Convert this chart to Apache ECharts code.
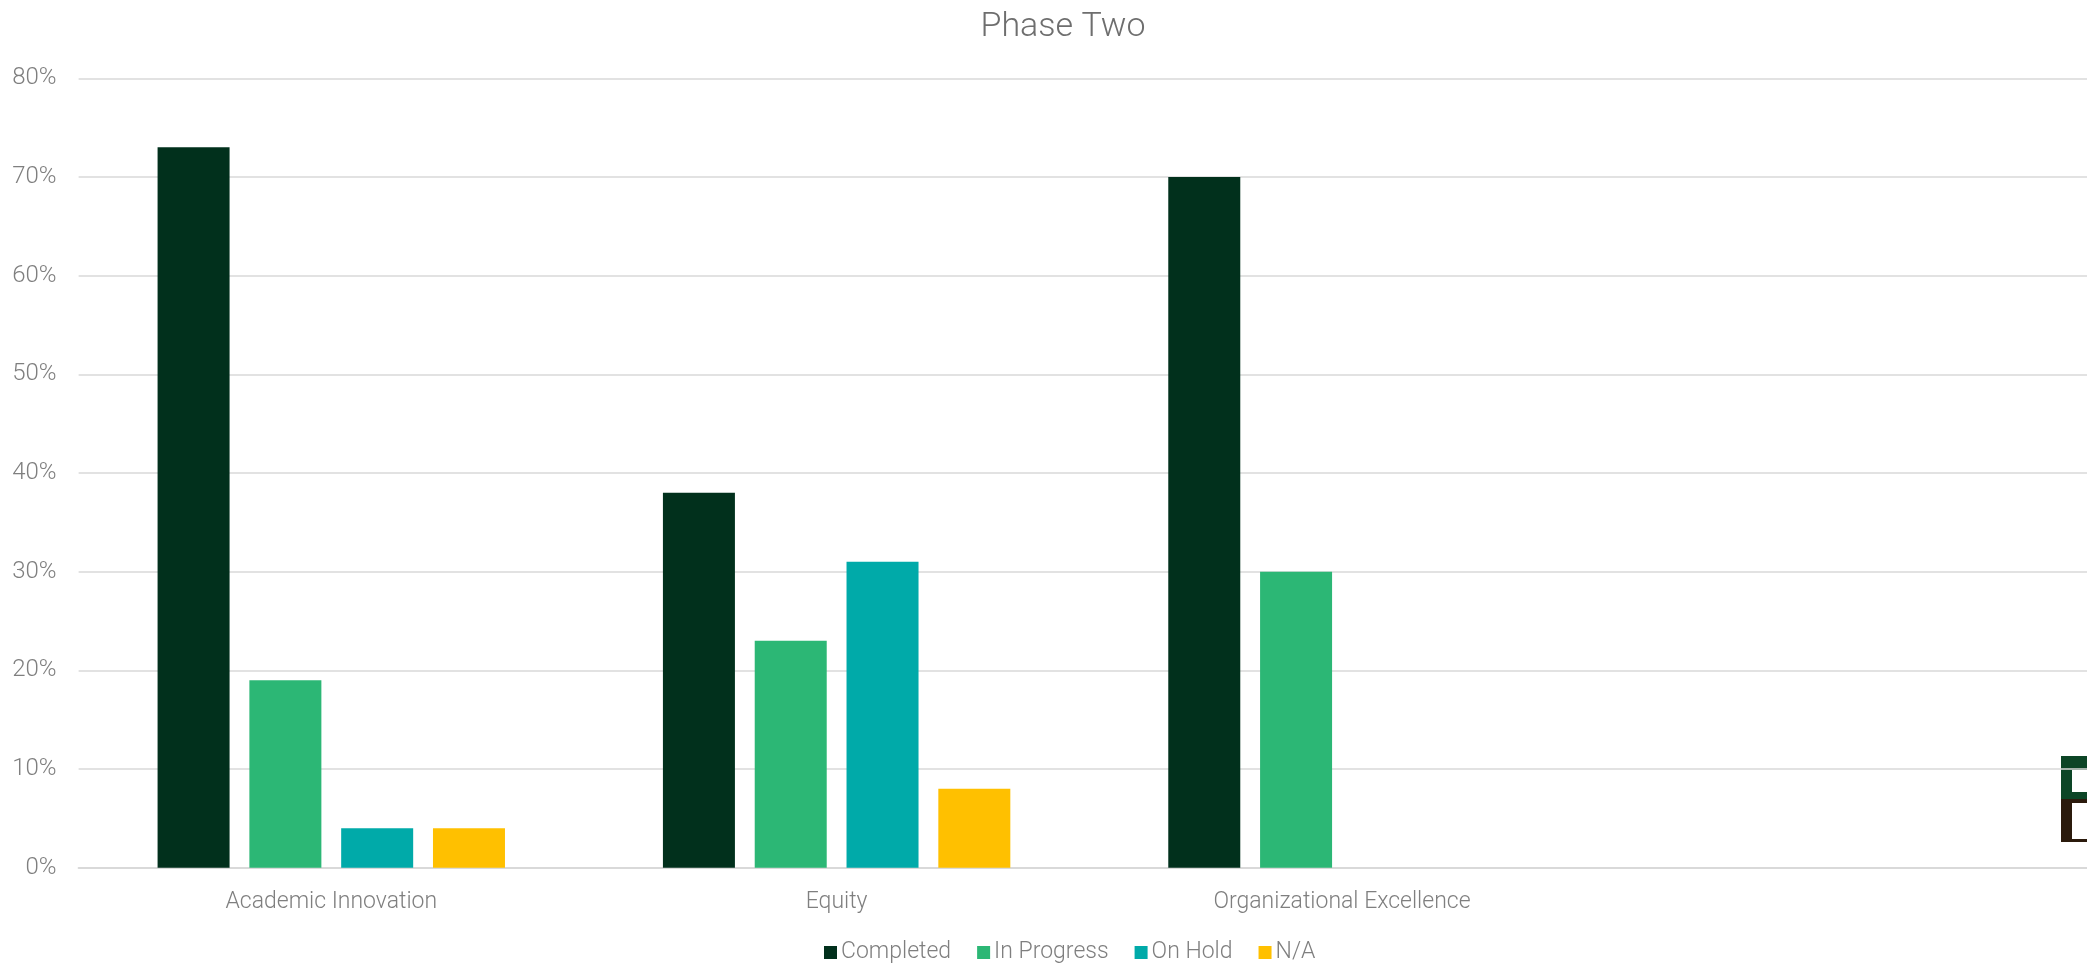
<!DOCTYPE html>
<html>
<head>
<meta charset="utf-8">
<script src="https://cdn.jsdelivr.net/npm/echarts@6/dist/echarts.min.js"></script>
<style>
  html, body { margin: 0; padding: 0; background: #ffffff; overflow: hidden; width: 2087px; height: 963px; }
  #chart { width: 2130px; height: 963px; }
</style>
</head>
<body>
<div id="chart"></div>
<script>
const categories = ['Academic Innovation', 'Equity', 'Organizational Excellence', ''];
const completed  = [73, 38, 70, null];
const inProgress = [19, 23, 30, null];
const onHold     = [4, 31, null, null];
const notApplicable = [4, 8, null, null];
const seriesNames = ['Completed', 'In Progress', 'On Hold', 'N/A'];
const yTicks = { min: 0, max: 80, interval: 10 };

const colors = ['#01301c', '#2cb775', '#00aaa9', '#ffc000'];
const FONT = 'Roboto';
const labelColor = '#7f7f7f';

const chart = echarts.init(document.getElementById('chart'), null, { renderer: 'canvas' });

const dataSets = [completed, inProgress, onHold, notApplicable];
const series = seriesNames.map((name, i) => ({
  name: name,
  type: 'bar',
  data: dataSets[i],
  barWidth: 72,
  barGap: '27.5%',
  itemStyle: { color: colors[i] },
  emphasis: { disabled: true }
}));

chart.setOption({
  animation: false,
  backgroundColor: '#ffffff',
  title: {
    text: 'Phase Two',
    left: 1058,
    textAlign: 'center',
    top: 5,
    textStyle: { fontFamily: FONT, fontWeight: 300, fontSize: 34, color: '#6e6e6e' }
  },
  legend: {
    data: seriesNames,
    left: 819,
    top: 936,
    itemWidth: 13,
    itemHeight: 13,
    itemGap: 26,
    icon: 'rect',
    textStyle: { fontFamily: FONT, fontWeight: 300, fontSize: 23, color: labelColor, padding: [0, 0, 0, -1] }
  },
  grid: {
    left: 78.6,
    top: 78.3,
    bottom: 95.3,
    right: 30,
    containLabel: false
  },
  xAxis: {
    type: 'category',
    data: categories,
    axisTick: { show: false },
    axisLine: { lineStyle: { color: '#d9d9d9', width: 2 } },
    axisLabel: { fontFamily: FONT, fontWeight: 300, fontSize: 23, color: labelColor, margin: 23 }
  },
  yAxis: {
    type: 'value',
    min: yTicks.min,
    max: yTicks.max,
    interval: yTicks.interval,
    axisLine: { show: false },
    axisTick: { show: false },
    splitLine: { lineStyle: { color: '#d9d9d9', width: 1.5 } },
    axisLabel: { fontFamily: FONT, fontWeight: 300, fontSize: 24, color: labelColor, margin: 22, formatter: '{value}%' }
  },
  graphic: [
    { type: 'rect', shape: { x: 2061, y: 756, width: 30, height: 43 }, style: { fill: '#0c4526' }, silent: true },
    { type: 'rect', shape: { x: 2061, y: 799, width: 30, height: 43 }, style: { fill: '#2b1a0c' }, silent: true },
    { type: 'rect', shape: { x: 2072, y: 770, width: 20, height: 22 }, style: { fill: '#ffffff' }, silent: true },
    { type: 'rect', shape: { x: 2072, y: 803, width: 20, height: 36 }, style: { fill: '#ffffff' }, silent: true }
  ],
  series: series
});
</script>
</body>
</html>
